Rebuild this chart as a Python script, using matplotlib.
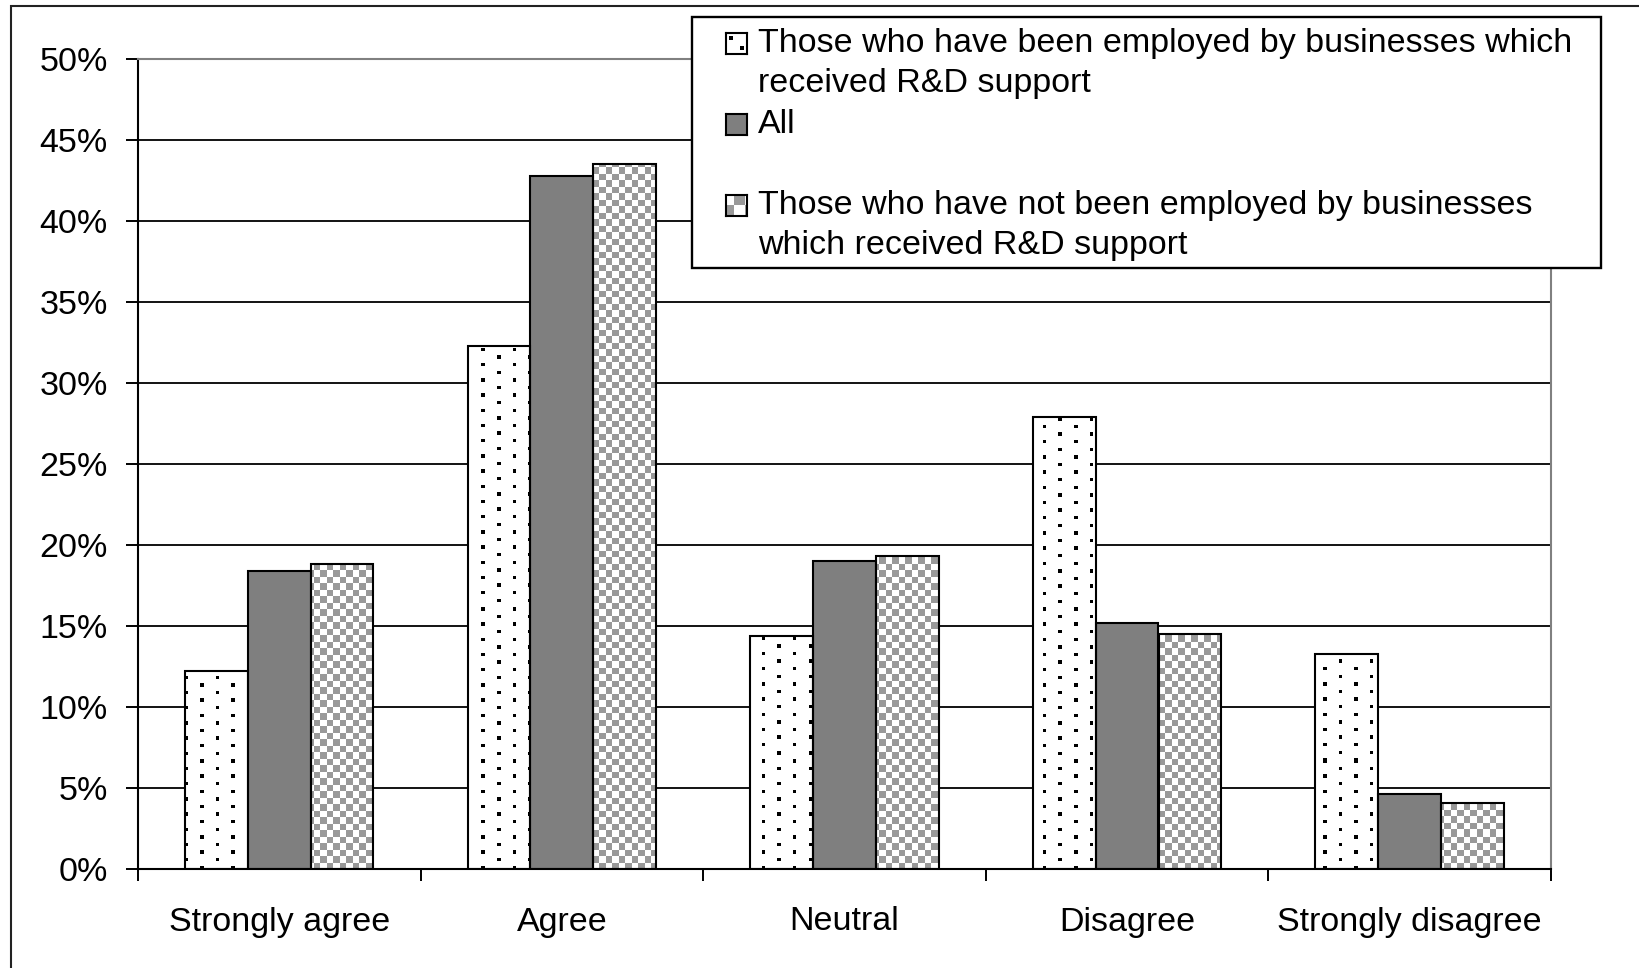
import numpy as np
import matplotlib
matplotlib.use("Agg")
import matplotlib.pyplot as plt
from matplotlib.patches import Rectangle
from matplotlib.ticker import PercentFormatter

plt.rcParams['font.family'] = ['Liberation Sans', 'DejaVu Sans']

# data (percent of respondents)
categories = ["Strongly agree", "Agree", "Neutral", "Disagree", "Strongly disagree"]
employed = [12.2, 32.3, 14.4, 27.9, 13.3]
all_resp = [18.4, 42.8, 19.0, 15.2, 4.6]
not_employed = [18.8, 43.5, 19.3, 14.5, 4.1]
series_labels = [
    "Those who have been employed by businesses which\nreceived R&D support",
    "All",
    "Those who have not been employed by businesses\nwhich received R&D support",
]
yticks = [0, 5, 10, 15, 20, 25, 30, 35, 40, 45, 50]

W, H = 1640, 968
FS = 24.5

fig = plt.figure(figsize=(W / 100, H / 100), dpi=100)
ax = fig.add_axes([138 / W, 1 - 869 / H, (1551 - 138) / W, (869 - 59) / H])
ax.set_xlim(-0.5, 4.5)
ax.set_ylim(0, 50)

# pixels per data unit, used to lay the fill patterns on a pixel grid
ppx = (1551 - 138) / 5.0
ppy = (869 - 59) / 50.0


def dots(gx, gy):
    img = np.ones(gx.shape + (3,))
    r = np.floor(gy / 7.6)
    on = ((gy % 7.6) < 3.5) & (((gx + (r % 2) * 15.6) % 31.2) < 3.5)
    img[on] = 0.0
    return img


def checker(gx, gy):
    img = np.ones(gx.shape + (3,))
    c = (np.floor(gx / 6.5) + np.floor(gy / 6.5)) % 2
    img[c == 1] = 0.6
    return img


def grey(gx, gy):
    img = np.ones(gx.shape + (3,)) * 0.5
    return img


x = np.arange(len(categories))
bw = 2 / 9
series = [employed, all_resp, not_employed]
patterns = [dots, grey, checker]

for k, (vals, pat) in enumerate(zip(series, patterns)):
    bars = ax.bar(x + (k - 1) * bw, vals, bw, facecolor="none",
                  edgecolor="black", linewidth=1.5, zorder=3)
    for rect in bars:
        x0, w, h = rect.get_x(), rect.get_width(), rect.get_height()
        nx = max(int(round(w * ppx)), 1)
        ny = max(int(round(h * ppy)), 1)
        left = (x0 + 0.5) * ppx
        gx, gy = np.meshgrid(left + np.arange(nx) + 0.5, np.arange(ny) + 0.5)
        ax.imshow(pat(gx, gy), extent=(x0, x0 + w, 0, h), origin="lower",
                  aspect="auto", interpolation="nearest", zorder=2)

ax.set_xlim(-0.5, 4.5)
ax.set_ylim(0, 50)

# axes styling
ax.set_yticks(yticks)
ax.yaxis.set_major_formatter(PercentFormatter(decimals=0))
ax.tick_params(axis="y", direction="out", length=8.6, width=1.4, pad=13,
               labelsize=FS, colors="black")
ax.yaxis.grid(True, color="black", linewidth=1.3)
ax.get_ygridlines()[-1].set_color("#808080")
ax.set_axisbelow(True)

ax.set_xticks(np.arange(-0.5, 5, 1))
ax.set_xticklabels([])
ax.set_xticks(x, minor=True)
ax.set_xticklabels(categories, minor=True)
ax.tick_params(axis="x", which="major", direction="out", length=8.6, width=1.4)
ax.tick_params(axis="x", which="minor", length=0, pad=27, labelsize=FS)

for side in ["left", "bottom"]:
    ax.spines[side].set_linewidth(1.5)
    ax.spines[side].set_color("black")
for side in ["right", "top"]:
    ax.spines[side].set_linewidth(1.5)
    ax.spines[side].set_color("#808080")

# legend drawn by hand to match the layout of the original
fig.patches.append(Rectangle((692 / W, 1 - 268 / H), (1601 - 692) / W, (268 - 17) / H,
                             transform=fig.transFigure, facecolor="white",
                             edgecolor="black", linewidth=1.7, zorder=5))
row_h = 40.4
row = 0
for lab, pat in zip(series_labels, patterns):
    yc = 43.5 + row * row_h
    hax = fig.add_axes([726 / W, 1 - (yc + 10.5) / H, 21 / W, 21 / H], zorder=6)
    gx, gy = np.meshgrid(np.arange(21) + 0.5 + 2, np.arange(21) + 0.5)
    if pat is checker:
        img = np.ones((21, 21, 3))
        c = (np.floor(gx / 10.5) + np.floor(gy / 10.5)) % 2
        img[c == 1] = 0.6
    elif pat is dots:
        img = np.ones((21, 21, 3))
        img[3:7, 3:7] = 0
        img[13:17, 14:18] = 0
    else:
        img = pat(gx, gy)
    hax.imshow(img, interpolation="nearest", aspect="auto")
    hax.set_xticks([])
    hax.set_yticks([])
    for s in hax.spines.values():
        s.set_linewidth(1.5)
    lines = lab.split("\n")
    for j, line in enumerate(lines):
        fig.text(758 / W, 1 - (yc + j * row_h) / H, line, fontsize=FS,
                 va="center", ha="left", zorder=7)
    row += 2

# outer frame of the chart
fig.patches.append(Rectangle((10.7 / W, -1), 2, 1 - 5.7 / H + 1,
                             transform=fig.transFigure, fill=False,
                             edgecolor="#222222", linewidth=1.5, zorder=1))

fig.savefig("out.png", dpi=100, facecolor="white")
